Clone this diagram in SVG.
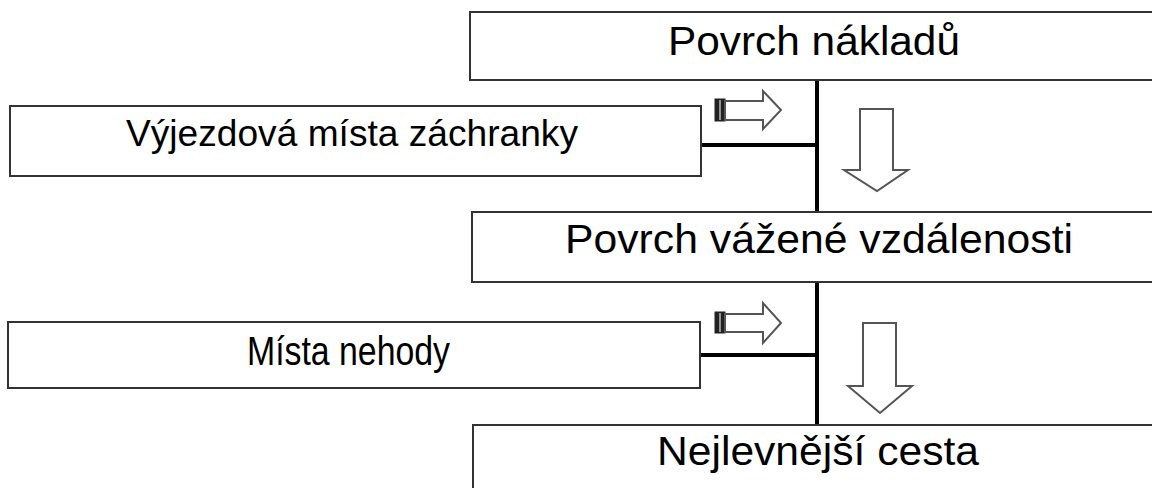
<svg xmlns="http://www.w3.org/2000/svg" width="1152" height="488" viewBox="0 0 1152 488">
<style>
.box{fill:#fff;stroke:#333;stroke-width:2}
.lbl{font-family:"Liberation Sans",Arial,sans-serif;fill:#000}
.conn{stroke:#000;stroke-width:4;fill:none}
.arr{fill:#fff;stroke:#555;stroke-width:2;stroke-linejoin:miter}
.tail{fill:#222;stroke:#222;stroke-width:1}
.tline{stroke:#bbb;stroke-width:1.5}
</style>
<rect width="1152" height="488" fill="#fff"/>
<g id="connectors">
<line class="conn" x1="817" y1="80" x2="817" y2="213"/>
<line class="conn" x1="817" y1="282" x2="817" y2="426"/>
<line class="conn" x1="701" y1="145" x2="817" y2="145"/>
<line class="conn" x1="700" y1="355" x2="817" y2="355"/>
<rect class="tail" x="715" y="99" width="10" height="22"/>
<line class="tline" x1="720" y1="100" x2="720" y2="120"/>
<path class="arr" d="M725,101 H763 V91 L781,110 L763,129 V120 H725 Z"/>
<path class="arr" d="M860,109 H893 V170 H908 L877,191 L844,170 H860 Z"/>
<rect class="tail" x="715" y="312" width="10" height="21"/>
<line class="tline" x1="720" y1="313" x2="720" y2="332"/>
<path class="arr" d="M725,314 H763 V303 L781,323 L763,343 V332 H725 Z"/>
<path class="arr" d="M863,323 H896 V386 H912 L880,413 L848,386 H863 Z"/>
</g>
<g id="povrch-nakladu">
<rect class="box" x="470" y="12" width="700" height="68"/>
<text class="lbl" x="668" y="55" font-size="41" textLength="292" lengthAdjust="spacingAndGlyphs">Povrch nákladů</text>
</g>
<g id="vyjezdova-mista">
<rect class="box" x="10" y="106" width="691" height="70"/>
<text class="lbl" x="126" y="146" font-size="36" textLength="452" lengthAdjust="spacingAndGlyphs">Výjezdová místa záchranky</text>
</g>
<g id="povrch-vazene">
<rect class="box" x="472" y="212" width="700" height="70"/>
<text class="lbl" x="565" y="253" font-size="40" textLength="508" lengthAdjust="spacingAndGlyphs">Povrch vážené vzdálenosti</text>
</g>
<g id="mista-nehody">
<rect class="box" x="8" y="322" width="692" height="66"/>
<text class="lbl" x="247" y="365" font-size="41" textLength="203" lengthAdjust="spacingAndGlyphs">Místa nehody</text>
</g>
<g id="nejlevnejsi-cesta">
<rect class="box" x="473" y="425" width="700" height="80"/>
<text class="lbl" x="657" y="465" font-size="40" textLength="322" lengthAdjust="spacingAndGlyphs">Nejlevnější cesta</text>
</g>
</svg>
